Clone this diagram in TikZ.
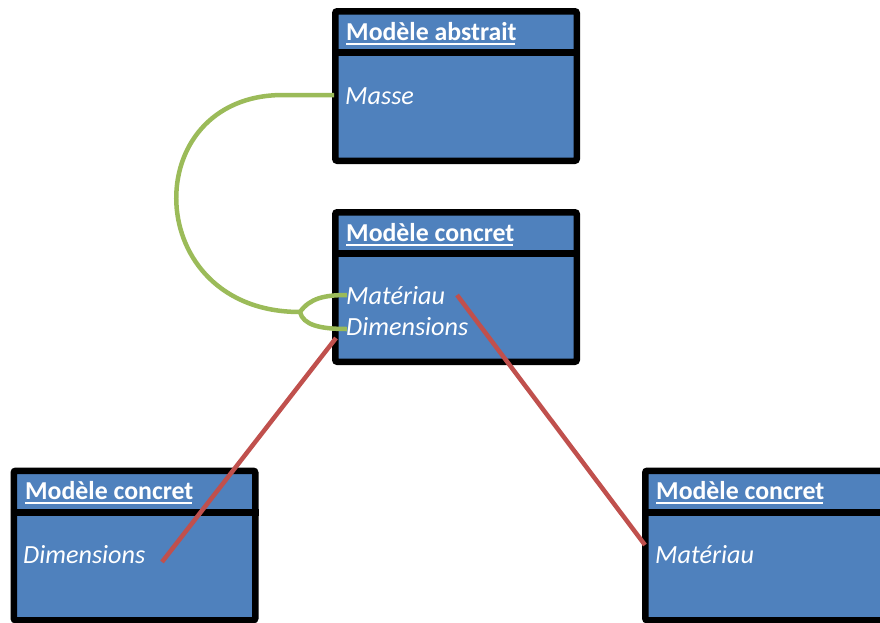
\documentclass[tikz,border=0pt]{standalone}
\usepackage{fontspec}
\setmainfont{Carlito}
\usetikzlibrary{calc}
\definecolor{boxblue}{HTML}{4F81BD}
\definecolor{lnkgreen}{HTML}{9BBB59}
\definecolor{lnkred}{HTML}{C0504D}
\begin{document}
\begin{tikzpicture}[x=1pt,y=-1pt,
  umlbox/.style={draw=black,fill=boxblue,line width=6.5pt,rounded corners=2pt,
    minimum width=241.5pt,minimum height=149.5pt,inner sep=0pt},
  title/.style={text=white,font=\fontsize{25.8}{30}\selectfont\bfseries,anchor=base west,inner sep=0pt},
  attr/.style={text=white,font=\fontsize{26.2}{30}\selectfont\itshape,anchor=base west,inner sep=0pt},
  green link/.style={draw=lnkgreen,line width=4.5pt},
  red link/.style={draw=lnkred,line width=4.5pt}]
\useasboundingbox (0,0) rectangle (880,622);
% boxes
\node[umlbox] (abs) at (456,86) {};
\node[umlbox] (conc) at (456,287) {};
\node[umlbox] (left) at (134.5,545.5) {};
\node[umlbox] (right) at (766,545.5) {};
\foreach \b in {abs,conc,left,right}{
  \draw[line width=7pt] ($(\b.north west)+(0,44.5)$) -- ($(\b.north east)+(0,44.5)$);
}
% titles
\node[title] (t1) at (346,40) {Modèle abstrait};
\node[title] (t2) at (346,241) {Modèle concret};
\node[title] (t3) at (25,499) {Modèle concret};
\node[title] (t4) at (656,499) {Modèle concret};
\foreach \t in {t1,t2,t3,t4}{
  \draw[white,line width=2pt] ($(\t.base west)+(0,3.5)$) -- ($(\t.base east)+(-1.5,3.5)$);
}
% attributes
\node[attr] (masse) at (345,104) {Masse};
\node[attr] (mat) at (346,304) {Matériau};
\node[attr] (dim) at (346,335) {Dimensions};
\node[attr] (dimL) at (23,563) {Dimensions};
\node[attr] (matR) at (655,563) {Matériau};
% connector end points
\coordinate (gA) at (334,95);
\coordinate (gB) at (283,95);
\coordinate (gJ) at (300,312);
\coordinate (gM) at (347,295);
\coordinate (gD) at (347,329);
\coordinate (rA) at (336,338);
\coordinate (rB) at (162,562);
\coordinate (rC) at (457,295);
\coordinate (rD) at (645,545);
% green links
\draw[green link] (gA) -- (gB) .. controls (136,95) and (140,312) .. (gJ);
\draw[green link] (gJ) .. controls (310,298) and (325,295) .. (gM);
\draw[green link] (gJ) .. controls (303,325) and (320,329) .. (gD);
% red links
\draw[red link] (rA) -- (rB);
\draw[red link] (rC) -- (rD);
\end{tikzpicture}
\end{document}
